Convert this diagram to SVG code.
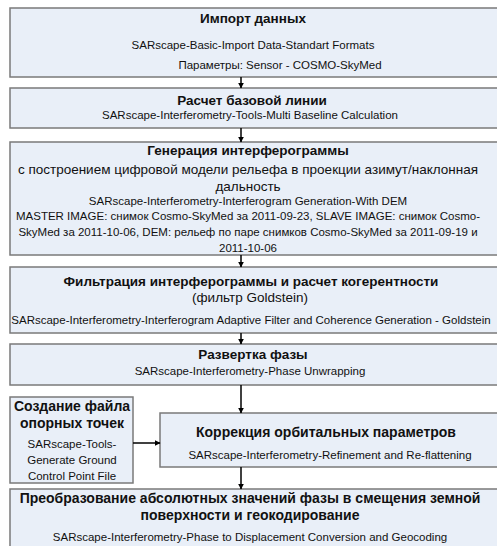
<svg xmlns="http://www.w3.org/2000/svg" width="497" height="546" viewBox="0 0 497 546">
<defs>
<marker id="ah" viewBox="0 0 10 10" refX="9" refY="5" markerWidth="6" markerHeight="6" orient="auto" markerUnits="userSpaceOnUse"><path d="M0,0 L10,5 L0,10 z" fill="#000"/></marker>
<style>
.box{fill:#e9eff8;stroke:#7a7a7a;stroke-width:1.5}
text{font-family:"Liberation Sans",Arial,sans-serif;fill:#111;text-anchor:middle}
.t{font-size:13.5px;font-weight:bold}
.tl{font-size:14px;font-weight:bold}
.r{font-size:13.5px}
.s{font-size:11.5px}
.c{stroke:#000;stroke-width:1.5;fill:none;marker-end:url(#ah)}
</style>
</defs>
<rect width="497" height="546" fill="#fff"/>
<g id="n1"><rect class="box" x="10" y="8" width="492" height="69"/>
<text class="t" x="253" y="23">Импорт данных</text>
<text class="s" x="253" y="49">SARscape-Basic-Import Data-Standart Formats</text>
<text class="s" x="280" y="69">Параметры: Sensor - COSMO-SkyMed</text></g>
<g id="n2"><rect class="box" x="10" y="88" width="492" height="40"/>
<text class="t" x="252" y="105">Расчет базовой линии</text>
<text class="s" x="250" y="119">SARscape-Interferometry-Tools-Multi Baseline Calculation</text></g>
<g id="n3"><rect class="box" x="10" y="142" width="492" height="113"/>
<text class="t" x="248" y="155">Генерация интерферограммы</text>
<text class="r" x="248" y="174">с построением цифровой модели рельефа в проекции азимут/наклонная</text>
<text class="r" x="248" y="191">дальность</text>
<text class="s" x="248" y="205">SARscape-Interferometry-Interferogram Generation-With DEM</text>
<text class="s" x="248" y="220">MASTER IMAGE: снимок Cosmo-SkyMed за 2011-09-23, SLAVE IMAGE: снимок Cosmo-</text>
<text class="s" x="248" y="236">SkyMed за 2011-10-06, DEM: рельеф по паре снимков Cosmo-SkyMed за 2011-09-19 и</text>
<text class="s" x="248" y="252">2011-10-06</text></g>
<g id="n4"><rect class="box" x="10" y="267" width="492" height="66"/>
<text class="t" x="251" y="286">Фильтрация интерферограммы и расчет когерентности</text>
<text class="r" x="250" y="302">(фильтр Goldstein)</text>
<text class="s" x="251" y="324">SARscape-Interferometry-Interferogram Adaptive Filter and Coherence Generation - Goldstein</text></g>
<g id="n5"><rect class="box" x="10" y="344" width="492" height="41"/>
<text class="t" x="253" y="359">Развертка фазы</text>
<text class="s" x="250" y="375">SARscape-Interferometry-Phase Unwrapping</text></g>
<g id="n6"><rect class="box" x="10" y="397" width="123" height="86"/>
<text class="tl" x="72" y="411">Создание файла</text>
<text class="tl" x="72" y="428">опорных точек</text>
<text class="s" x="72" y="448">SARscape-Tools-</text>
<text class="s" x="72" y="464">Generate Ground</text>
<text class="s" x="72" y="480">Control Point File</text></g>
<g id="n7"><rect class="box" x="160" y="413" width="342" height="54"/>
<text class="tl" x="326" y="437">Коррекция орбитальных параметров</text>
<text class="s" x="330" y="459">SARscape-Interferometry-Refinement and Re-flattening</text></g>
<g id="n8"><rect class="box" x="10" y="489" width="492" height="80"/>
<text class="tl" x="250" y="503">Преобразование абсолютных значений фазы в смещения земной</text>
<text class="tl" x="250" y="520">поверхности и геокодирование</text>
<text class="s" x="250" y="541">SARscape-Interferometry-Phase to Displacement Conversion and Geocoding</text></g>
<g id="connectors">
<line class="c" x1="241" y1="77" x2="241" y2="88"/>
<line class="c" x1="241" y1="128" x2="241" y2="142"/>
<line class="c" x1="241" y1="255" x2="241" y2="267"/>
<line class="c" x1="241" y1="333" x2="241" y2="344"/>
<line class="c" x1="241" y1="385" x2="241" y2="413"/>
<line class="c" x1="133" y1="443" x2="160" y2="443"/>
<line class="c" x1="241" y1="467" x2="241" y2="489"/>
</g>
</svg>
